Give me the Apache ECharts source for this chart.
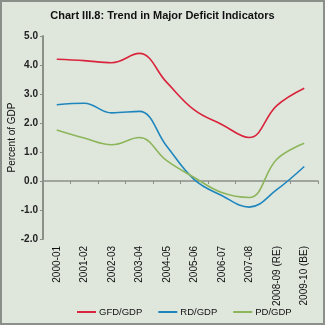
<!DOCTYPE html>
<html>
<head>
<meta charset="utf-8">
<script src="https://cdn.jsdelivr.net/npm/echarts@6/dist/echarts.min.js"></script>
<style>
html,body{margin:0;padding:0;background:#dfe7dd;}
#c{width:325px;height:325px;}
</style>
</head>
<body>
<div id="c"></div>
<script>
var categories = ['2000-01','2001-02','2002-03','2003-04','2004-05','2005-06','2006-07','2007-08','2008-09 (RE)','2009-10 (BE)'];
var gfd = [4.2, 4.15, 4.08, 4.4, 3.4, 2.45, 1.95, 1.5, 2.6, 3.2];
var rd  = [2.63, 2.68, 2.35, 2.4, 1.2, 0.05, -0.5, -0.9, -0.3, 0.5];
var pd  = [1.76, 1.48, 1.25, 1.5, 0.7, 0.12, -0.4, -0.57, 0.75, 1.3];
var yTicks = {min: -2, max: 5, interval: 1};

var chart = echarts.init(document.getElementById('c'), null, {renderer: 'canvas'});
var font = 'Liberation Sans, Arial, sans-serif';
chart.setOption({
  backgroundColor: '#dfe7dd',
  animation: false,
  title: {
    text: 'Chart III.8: Trend in Major Deficit Indicators',
    left: 'center', top: 5,
    textStyle: {fontFamily: font, fontSize: 11, fontWeight: 'bold', color: '#111'}
  },
  graphic: [{
    type: 'rect', shape: {x: 1, y: 1, width: 323, height: 323},
    style: {fill: 'none', stroke: '#8a8f8a', lineWidth: 2}, silent: true
  }],
  legend: {
    top: 307, left: 77, padding: 0, itemWidth: 19, itemHeight: 2, itemGap: 16,
    icon: 'rect',
    textStyle: {fontFamily: font, fontSize: 9.5, color: '#111', padding: [0, 0, 0, -2]},
    data: ['GFD/GDP', 'RD/GDP', 'PD/GDP']
  },
  grid: {left: 43, right: 7, top: 36, bottom: 86, containLabel: false, outerBoundsMode: 'none'},
  xAxis: {
    type: 'category', data: categories, boundaryGap: true,
    axisLine: {onZero: true, lineStyle: {color: '#8a8f8a', width: 1.5}},
    axisTick: {show: true, length: 3, lineStyle: {color: '#8a8f8a'}},
    axisLabel: {rotate: 90, interval: 0, margin: 7, fontFamily: font, fontSize: 10, color: '#111'}
  },
  yAxis: {
    type: 'value', min: yTicks.min, max: yTicks.max, interval: yTicks.interval,
    name: 'Percent of GDP', nameLocation: 'middle', nameGap: 26, nameRotate: 90, nameMoveOverlap: false,
    nameTextStyle: {fontFamily: font, fontSize: 10, color: '#111'},
    axisLine: {show: true, lineStyle: {color: '#8a8f8a', width: 2}},
    axisTick: {show: true, length: 3, lineStyle: {color: '#8a8f8a'}},
    splitLine: {show: false},
    axisLabel: {formatter: function(v){return v.toFixed(1);}, fontFamily: font, fontSize: 10, fontWeight: 'bold', color: '#222', margin: 5}
  },
  series: [
    {name: 'GFD/GDP', type: 'line', data: gfd, smooth: 0.4, symbol: 'none', lineStyle: {color: '#d9243c', width: 1.6}, itemStyle: {color: '#d9243c'}},
    {name: 'RD/GDP', type: 'line', data: rd, smooth: 0.4, symbol: 'none', lineStyle: {color: '#1f86bd', width: 1.6}, itemStyle: {color: '#1f86bd'}},
    {name: 'PD/GDP', type: 'line', data: pd, smooth: 0.4, symbol: 'none', lineStyle: {color: '#8db55a', width: 1.6}, itemStyle: {color: '#8db55a'}}
  ]
});
</script>
</body>
</html>
